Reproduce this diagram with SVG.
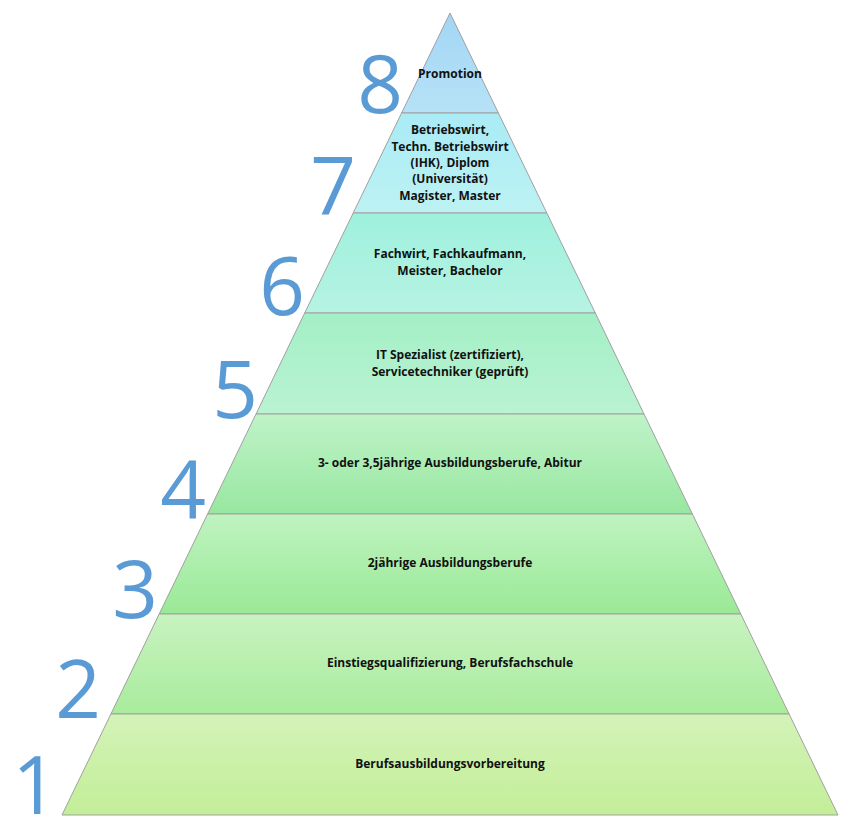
<svg xmlns="http://www.w3.org/2000/svg" width="854" height="827" viewBox="0 0 854 827">
<defs>
<style>
.l{stroke:#a0a0a0;stroke-width:1}
.t{font-family:"Open Sans","Liberation Sans",sans-serif;font-weight:bold;font-size:12px;fill:#111;text-anchor:middle}
.n{font-family:"Open Sans","Liberation Sans",sans-serif;font-size:80px;fill:#5b9bd5;text-anchor:middle}
</style>
<linearGradient id="g8" x1="0" y1="0" x2="0" y2="1"><stop offset="0" stop-color="#a3d6f4"/><stop offset="1" stop-color="#b6e2f7"/></linearGradient>
<linearGradient id="g7" x1="0" y1="0" x2="0" y2="1"><stop offset="0" stop-color="#a9ebf6"/><stop offset="1" stop-color="#bdf2f3"/></linearGradient>
<linearGradient id="g6" x1="0" y1="0" x2="0" y2="1"><stop offset="0" stop-color="#9ff0de"/><stop offset="1" stop-color="#b6f3e2"/></linearGradient>
<linearGradient id="g5" x1="0" y1="0" x2="0" y2="1"><stop offset="0" stop-color="#a3efc6"/><stop offset="1" stop-color="#baf3d2"/></linearGradient>
<linearGradient id="g4" x1="0" y1="0" x2="0" y2="1"><stop offset="0" stop-color="#bff3c8"/><stop offset="1" stop-color="#98e7a0"/></linearGradient>
<linearGradient id="g3" x1="0" y1="0" x2="0" y2="1"><stop offset="0" stop-color="#bff3c0"/><stop offset="1" stop-color="#9ae996"/></linearGradient>
<linearGradient id="g2" x1="0" y1="0" x2="0" y2="1"><stop offset="0" stop-color="#c8f3c0"/><stop offset="1" stop-color="#a9eb9c"/></linearGradient>
<linearGradient id="g1" x1="0" y1="0" x2="0" y2="1"><stop offset="0" stop-color="#d3f3b8"/><stop offset="1" stop-color="#c3ee98"/></linearGradient>
</defs>
<g id="level8"><polygon class="l" fill="url(#g8)" points="450,13 498.4,113 401.6,113"/><text class="t" x="450" y="78">Promotion</text><text class="n" x="380" y="113">8</text></g>
<g id="level7"><polygon class="l" fill="url(#g7)" points="401.6,113 498.4,113 546.8,213 353.2,213"/><text class="t" x="450" y="134">Betriebswirt,</text><text class="t" x="450" y="151">Techn. Betriebswirt</text><text class="t" x="450" y="167">(IHK), Diplom</text><text class="t" x="450" y="183">(Universität)</text><text class="t" x="450" y="200">Magister, Master</text><text class="n" x="333" y="215">7</text></g>
<g id="level6"><polygon class="l" fill="url(#g6)" points="353.2,213 546.8,213 595.3,313 304.7,313"/><text class="t" x="450" y="258">Fachwirt, Fachkaufmann,</text><text class="t" x="450" y="275">Meister, Bachelor</text><text class="n" x="282" y="315">6</text></g>
<g id="level5"><polygon class="l" fill="url(#g5)" points="304.7,313 595.3,313 644,414 256,414"/><text class="t" x="450" y="359">IT Spezialist (zertifiziert),</text><text class="t" x="450" y="376">Servicetechniker (geprüft)</text><text class="n" x="235" y="418">5</text></g>
<g id="level4"><polygon class="l" fill="url(#g4)" points="256,414 644,414 692.4,514 207.6,514"/><text class="t" x="450" y="467">3- oder 3,5jährige Ausbildungsberufe, Abitur</text><text class="n" x="183" y="518">4</text></g>
<g id="level3"><polygon class="l" fill="url(#g3)" points="207.6,514 692.4,514 740.8,614 159.2,614"/><text class="t" x="450" y="567">2jährige Ausbildungsberufe</text><text class="n" x="135" y="618">3</text></g>
<g id="level2"><polygon class="l" fill="url(#g2)" points="159.2,614 740.8,614 789.1,714 110.9,714"/><text class="t" x="450" y="667">Einstiegsqualifizierung, Berufsfachschule</text><text class="n" x="78" y="718">2</text></g>
<g id="level1"><polygon class="l" fill="url(#g1)" points="110.9,714 789.1,714 838,815 62,815"/><text class="t" x="450" y="768">Berufsausbildungsvorbereitung</text><text class="n" x="35" y="814">1</text></g>
<g id="connectors"/>
</svg>
